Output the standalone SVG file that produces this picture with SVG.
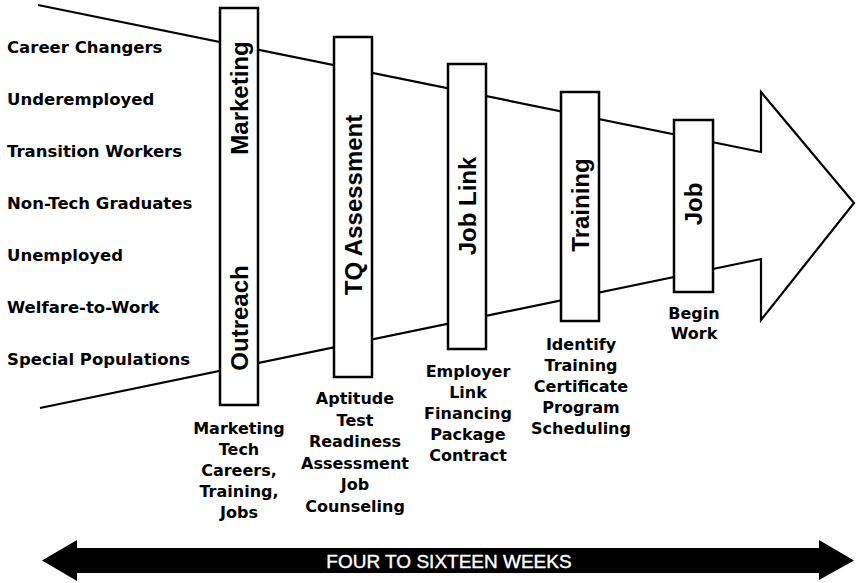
<svg xmlns="http://www.w3.org/2000/svg" width="858" height="583" viewBox="0 0 858 583">
<style>
.bg{fill:#fff}
.funnel{fill:none;stroke:#000;stroke-width:2.2;stroke-linejoin:miter}
.box{fill:#fff;stroke:#000;stroke-width:2.5}
.vlab{font-family:"Liberation Sans",Arial,sans-serif;font-weight:bold;font-size:24px;fill:#000;text-anchor:middle}
.lab{font-family:"DejaVu Sans","Liberation Sans",sans-serif;font-weight:bold;font-size:16.5px;fill:#000}
.sub{font-family:"DejaVu Sans","Liberation Sans",sans-serif;font-weight:bold;font-size:16px;fill:#000;text-anchor:middle}
.wk{font-family:"Liberation Sans",Arial,sans-serif;font-size:19px;fill:#fff;stroke:#fff;stroke-width:0.4;text-anchor:middle}
</style>
<rect class="bg" x="0" y="0" width="858" height="583"/>
<g id="connectors">
<polyline class="funnel" points="38,5 761,152 761,92 854,203 761,320 761,259 40,408"/>
</g>
<g id="populations">
<text class="lab" x="7" y="53">Career Changers</text>
<text class="lab" x="7" y="105">Underemployed</text>
<text class="lab" x="7" y="157">Transition Workers</text>
<text class="lab" x="7" y="209">Non-Tech Graduates</text>
<text class="lab" x="7" y="261">Unemployed</text>
<text class="lab" x="7" y="313">Welfare-to-Work</text>
<text class="lab" x="7" y="365">Special Populations</text>
</g>
<g id="outreach">
<rect class="box" x="220" y="8" width="38" height="397"/>
<text class="vlab" transform="translate(247.6,98) rotate(-90)">Marketing</text>
<text class="vlab" transform="translate(247.6,318) rotate(-90)">Outreach</text>
<text class="sub" x="239" y="434">Marketing</text>
<text class="sub" x="239" y="455">Tech</text>
<text class="sub" x="239" y="476">Careers,</text>
<text class="sub" x="239" y="497">Training,</text>
<text class="sub" x="239" y="518">Jobs</text>
</g>
<g id="assessment">
<rect class="box" x="334" y="37" width="38" height="340"/>
<text class="vlab" transform="translate(361.6,205) rotate(-90)">TQ Assessment</text>
<text class="sub" x="355" y="404">Aptitude</text>
<text class="sub" x="355" y="425.5">Test</text>
<text class="sub" x="355" y="447">Readiness</text>
<text class="sub" x="355" y="468.5">Assessment</text>
<text class="sub" x="355" y="490">Job</text>
<text class="sub" x="355" y="511.5">Counseling</text>
</g>
<g id="joblink">
<rect class="box" x="448" y="64" width="38" height="285"/>
<text class="vlab" transform="translate(475.6,206) rotate(-90)">Job Link</text>
<text class="sub" x="468" y="377">Employer</text>
<text class="sub" x="468" y="398">Link</text>
<text class="sub" x="468" y="419">Financing</text>
<text class="sub" x="468" y="440">Package</text>
<text class="sub" x="468" y="461">Contract</text>
</g>
<g id="training">
<rect class="box" x="561" y="92" width="38" height="229"/>
<text class="vlab" transform="translate(588.6,205) rotate(-90)">Training</text>
<text class="sub" x="581" y="350">Identify</text>
<text class="sub" x="581" y="371">Training</text>
<text class="sub" x="581" y="392">Certificate</text>
<text class="sub" x="581" y="413">Program</text>
<text class="sub" x="581" y="434">Scheduling</text>
</g>
<g id="job">
<rect class="box" x="674" y="120" width="39" height="172"/>
<text class="vlab" transform="translate(702.1,204) rotate(-90)">Job</text>
<text class="sub" x="694" y="319">Begin</text>
<text class="sub" x="694" y="339">Work</text>
</g>
<g id="duration">
<polygon fill="#000" points="42,560.5 77,540 77,548 819,548 819,540 854,560.5 819,580 819,573 77,573 77,581"/>
<text class="wk" x="449" y="567.5">FOUR TO SIXTEEN WEEKS</text>
</g>
</svg>
